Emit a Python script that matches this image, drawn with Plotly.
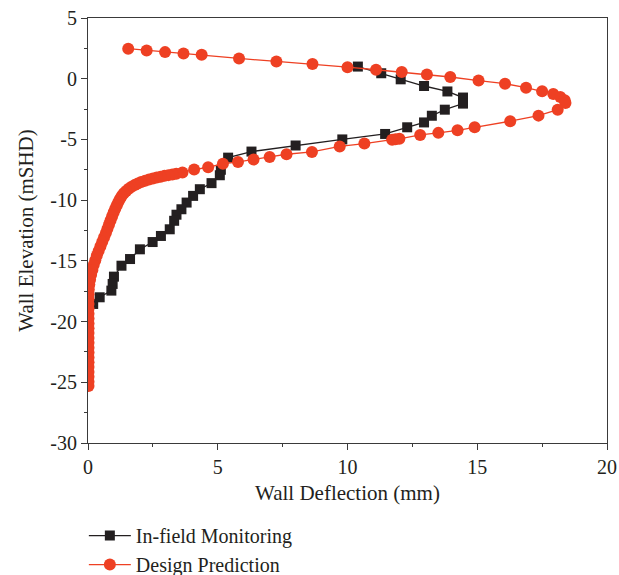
import plotly.graph_objects as go

# In-field Monitoring (black squares)
monitor_x = [10.4, 11.3, 12.05, 12.95, 13.85, 14.45, 14.45, 13.75, 13.25, 12.95, 12.3, 11.45,
             9.8, 8.0, 6.3, 5.4, 5.12, 5.08, 4.76, 4.31, 4.05, 3.8, 3.6, 3.41, 3.32, 3.15,
             2.81, 2.49, 2.0, 1.62, 1.29, 1.0, 0.95, 0.9, 0.45, 0.2]
monitor_y = [1.0, 0.45, -0.05, -0.6, -1.05, -1.55, -2.05, -2.55, -3.05, -3.6, -4.0, -4.55,
             -5.0, -5.5, -6.0, -6.5, -7.5, -7.95, -8.6, -9.1, -9.65, -10.2, -10.75, -11.2, -11.7, -12.4,
             -12.95, -13.45, -14.05, -14.85, -15.4, -16.3, -16.9, -17.45, -18.0, -18.55]

# Design Prediction (red circles)
design_x = [1.55, 2.26, 2.97, 3.68, 4.38, 5.82, 7.26, 8.65, 10.0, 11.1, 12.09, 13.06, 13.96,
            15.05, 16.07, 16.88, 17.5, 17.93, 18.2, 18.37, 18.4, 18.1, 17.36, 16.27, 14.9,
            14.24, 13.5, 12.8, 12.0, 11.85, 11.72, 10.65, 9.7, 8.63, 7.65, 7.0, 6.38, 5.78,
            5.2, 4.63, 4.09, 3.64,
            3.40, 3.25, 3.10, 2.95, 2.80, 2.65, 2.50, 2.35, 2.20, 2.05, 1.92, 1.80, 1.68,
            1.57, 1.47, 1.38, 1.30, 1.23, 1.17, 1.11, 1.05, 0.99, 0.93, 0.87, 0.81, 0.75,
            0.69, 0.62, 0.55, 0.48, 0.41, 0.34, 0.28, 0.22, 0.17, 0.12, 0.08, 0.05, 0.03,
            0.02, 0.02, 0.02, 0.02, 0.02, 0.02, 0.02, 0.02, 0.02, 0.02, 0.02, 0.02, 0.02,
            0.02, 0.02, 0.02, 0.02, 0.02, 0.02, 0.02]
design_y = [2.47, 2.33, 2.19, 2.08, 1.97, 1.67, 1.42, 1.21, 0.95, 0.74, 0.55, 0.35, 0.14,
            -0.15, -0.41, -0.74, -1.04, -1.26, -1.51, -1.78, -2.0, -2.55, -3.04, -3.5, -4.0,
            -4.25, -4.46, -4.63, -4.95, -4.98, -5.02, -5.34, -5.58, -6.03, -6.22, -6.44, -6.66, -6.85,
            -7.01, -7.29, -7.48, -7.72,
            -7.82, -7.88, -7.94, -8.0, -8.07, -8.14, -8.22, -8.30, -8.40, -8.50, -8.62, -8.75, -8.90,
            -9.06, -9.24, -9.44, -9.66, -9.90, -10.15, -10.42, -10.70, -11.0, -11.32, -11.65, -12.0, -12.35,
            -12.7, -13.06, -13.42, -13.8, -14.18, -14.56, -14.95, -15.35, -15.75, -16.15, -16.55, -16.95, -17.35,
            -17.75, -18.15, -18.55, -18.95, -19.35, -19.75, -20.15, -20.55, -20.95, -21.35, -21.75, -22.15, -22.55,
            -22.95, -23.35, -23.75, -24.15, -24.55, -24.95, -25.3]

x_ticks = [0, 5, 10, 15, 20]
x_labels = ["0", "5", "10", "15", "20"]
y_ticks = [5, 0, -5, -10, -15, -20, -25, -30]
y_labels = ["5", "0", "-5", "-10", "-15", "-20", "-25", "-30"]

RED = "#EE4023"
BLACK = "#231F20"
FONT = "Liberation Serif"

fig = go.Figure()
fig.add_trace(go.Scatter(
    x=monitor_x, y=monitor_y, mode="lines+markers", name="In-field Monitoring",
    line=dict(color=BLACK, width=1.3),
    marker=dict(symbol="square", size=10, color=BLACK),
))
fig.add_trace(go.Scatter(
    x=design_x, y=design_y, mode="lines+markers", name="Design Prediction",
    line=dict(color=RED, width=1.3),
    marker=dict(symbol="circle", size=12, color=RED),
))

axis_common = dict(
    showline=True, linecolor="#3a3a3a", linewidth=1, mirror=True,
    showgrid=False, zeroline=False,
    ticks="outside", ticklen=6, tickwidth=1, tickcolor="#3a3a3a",
    tickfont=dict(family=FONT, size=20, color=BLACK),
    minor=dict(ticks="outside", ticklen=3, tickwidth=1, tickcolor="#3a3a3a", dtick=2.5),
)

fig.update_layout(
    width=619, height=575,
    margin=dict(l=88, r=12, t=18, b=132, autoexpand=False),
    paper_bgcolor="white", plot_bgcolor="white",
    font=dict(family=FONT, size=21, color=BLACK),
    xaxis=dict(range=[0, 20], tickvals=x_ticks, ticktext=x_labels,
               title=dict(text="Wall Deflection (mm)", font=dict(family=FONT, size=21, color=BLACK), standoff=8),
               **axis_common),
    yaxis=dict(range=[-30, 5], tickvals=y_ticks, ticktext=y_labels,
               title=dict(text="Wall Elevation (mSHD)", font=dict(family=FONT, size=21, color=BLACK), standoff=10),
               **axis_common),
    showlegend=True,
    legend=dict(x=-0.008, y=-0.172, xanchor="left", yanchor="top",
                font=dict(family=FONT, size=20, color=BLACK),
                bgcolor="rgba(0,0,0,0)", tracegroupgap=0, itemwidth=42),
)

fig.write_html("out.html")
